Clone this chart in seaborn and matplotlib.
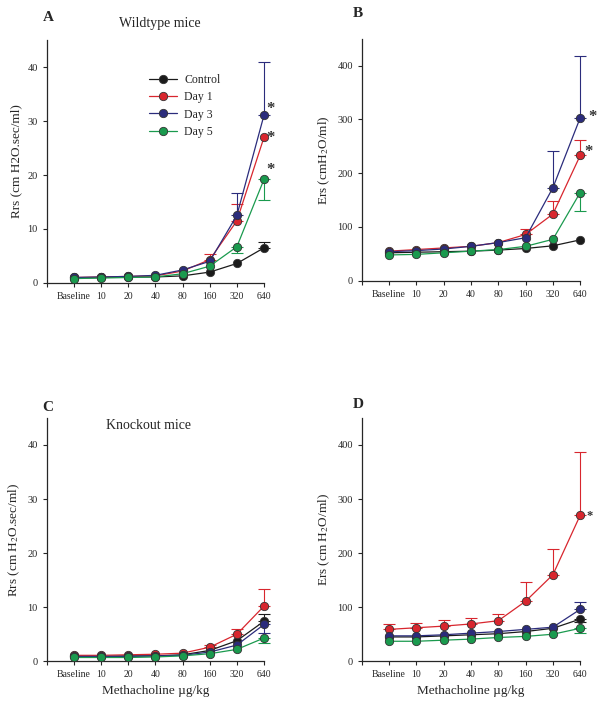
import numpy as np
import pandas as pd
import matplotlib
matplotlib.use('Agg')
import matplotlib.pyplot as plt
import seaborn as sns

sns.set_style("ticks")
plt.rcParams['font.family'] = ['Liberation Serif', 'DejaVu Serif']
plt.rcParams['mathtext.fontset'] = 'stix'

doses = ['Baseline', '10', '20', '40', '80', '160', '320', '640']
groups = ['Control', 'Day 1', 'Day 3', 'Day 5']
colors = {'Control': '#1b1b1b', 'Day 1': '#d8262e', 'Day 3': '#2b2c7c', 'Day 5': '#1a9a4e'}
nan = np.nan

# A - Rrs wildtype
a_ctrl = [0.9, 1.0, 1.1, 1.1, 1.3, 2.0, 3.6, 6.5]
a_day1 = [1.0, 1.1, 1.2, 1.3, 2.2, 4.3, 11.5, 27.0]
a_day3 = [1.0, 1.1, 1.2, 1.4, 2.4, 4.0, 12.5, 31.1]
a_day5 = [0.8, 0.9, 1.0, 1.1, 1.7, 3.1, 6.7, 19.2]
# error bar ends (nan = not visible)
a_ctrl_err = [nan, nan, nan, nan, nan, nan, nan, 7.6]
a_day1_err = [nan, nan, nan, nan, nan, 5.3, 14.6, nan]
a_day3_err = [nan, nan, nan, nan, nan, nan, 16.7, 41.0]
a_day5_err = [nan, nan, nan, nan, nan, nan, 5.6, 15.3]

# B - Ers wildtype
b_ctrl = [52, 53, 54, 55, 57, 60, 65, 76]
b_day1 = [55, 58, 61, 64, 71, 86, 124, 233]
b_day3 = [54, 56, 59, 64, 71, 80, 173, 303]
b_day5 = [48, 49, 52, 55, 58, 64, 77, 164]
b_ctrl_err = [nan] * 8
b_day1_err = [nan, nan, nan, nan, nan, 96, 149, 261]
b_day3_err = [nan, nan, nan, nan, nan, nan, 242, 418]
b_day5_err = [nan, nan, nan, nan, nan, nan, nan, 130]

# C - Rrs knockout
c_ctrl = [0.9, 0.9, 1.0, 1.0, 1.2, 2.0, 3.8, 7.4]
c_day1 = [1.1, 1.1, 1.2, 1.3, 1.5, 2.6, 5.0, 10.2]
c_day3 = [0.9, 0.9, 0.9, 1.0, 1.1, 1.7, 3.0, 6.8]
c_day5 = [0.7, 0.7, 0.7, 0.8, 1.0, 1.4, 2.2, 4.3]
c_ctrl_err = [nan, nan, nan, nan, nan, nan, nan, 8.8]
c_day1_err = [nan, nan, nan, nan, nan, 3.1, 6.0, 13.4]
c_day3_err = [nan, nan, nan, nan, nan, nan, nan, 5.2]
c_day5_err = [nan, nan, nan, nan, nan, nan, nan, 3.4]

# D - Ers knockout
d_ctrl = [45, 45, 47, 49, 51, 55, 61, 78]
d_day1 = [59, 62, 65, 69, 75, 111, 160, 270]
d_day3 = [47, 47, 49, 52, 55, 59, 63, 96]
d_day5 = [37, 37, 39, 41, 44, 46, 50, 61]
d_ctrl_err = [nan, nan, nan, nan, nan, nan, nan, 72]
d_day1_err = [68, 71, 76, 80, 88, 146, 207, 386]
d_day3_err = [nan, nan, nan, nan, nan, nan, nan, 110]
d_day5_err = [nan, nan, nan, nan, nan, nan, nan, 52]

# significance stars: (x, y, size)
a_stars = [(7.25, 32.3, 12), (7.25, 26.8, 12), (7.25, 20.9, 12)]
b_stars = [(7.45, 304, 12), (7.3, 240, 12)]
c_stars = []
d_stars = [(7.35, 268, 9)]


def make_df(vals):
    rows = []
    for g, v in zip(groups, vals):
        for i, y in enumerate(v):
            rows.append({'pos': i, 'value': y, 'group': g})
    return pd.DataFrame(rows)


def draw_panel(ax, vals, errs, ymax, yticks, ylabel, stars, xlabel=None):
    df = make_df(vals)
    for g, v, e in zip(groups, vals, errs):
        v = np.array(v, dtype=float)
        e = np.array(e, dtype=float)
        ok = ~np.isnan(e)
        if ok.any():
            lo = np.where(e[ok] < v[ok], v[ok] - e[ok], 0)
            hi = np.where(e[ok] > v[ok], e[ok] - v[ok], 0)
            eb = ax.errorbar(np.arange(8)[ok], v[ok], yerr=[lo, hi], fmt='none',
                             ecolor=colors[g], elinewidth=0.8, capsize=4, capthick=0.8, zorder=1)
            for child in eb.get_children():
                child.set_clip_on(False)
    sns.lineplot(data=df, x='pos', y='value', hue='group', hue_order=groups,
                 palette=colors, marker='o', markersize=6, markeredgecolor='#333333',
                 markeredgewidth=0.6, linewidth=0.9, ax=ax, legend=False, zorder=3)
    for ln in ax.lines:
        ln.set_clip_on(False)
    for x, y, s in stars:
        ax.text(x, y, '*', fontsize=s, fontweight='bold', color='#333333', ha='center', va='center')
    ax.set_xlim(-1, 7)
    ax.set_ylim(0, ymax)
    ax.set_xticks(range(-1, 8))
    ax.set_xticklabels([''] + doses, fontsize=7)
    ax.set_yticks(yticks)
    ax.tick_params(axis='y', labelsize=7.5, length=3, width=0.8)
    ax.tick_params(axis='x', length=3, width=0.8)
    ax.set_ylabel(ylabel, fontsize=9.5)
    ax.set_xlabel(xlabel if xlabel else '', fontsize=9.5)
    sns.despine(ax=ax)
    ax.spines['left'].set_linewidth(0.9)
    ax.spines['bottom'].set_linewidth(0.9)


fig = plt.figure(figsize=(6, 7.18), dpi=100)
axA = fig.add_axes([0.078, 0.606, 0.362, 0.338])
axB = fig.add_axes([0.603, 0.609, 0.364, 0.337])
axC = fig.add_axes([0.078, 0.079, 0.362, 0.339])
axD = fig.add_axes([0.603, 0.079, 0.364, 0.339])

draw_panel(axA, [a_ctrl, a_day1, a_day3, a_day5], [a_ctrl_err, a_day1_err, a_day3_err, a_day5_err],
           45, [0, 10, 20, 30, 40], 'Rrs (cm H2O.sec/ml)', a_stars)
draw_panel(axB, [b_ctrl, b_day1, b_day3, b_day5], [b_ctrl_err, b_day1_err, b_day3_err, b_day5_err],
           450, [0, 100, 200, 300, 400], r'Ers (cmH$_2$O/ml)', b_stars)
draw_panel(axC, [c_ctrl, c_day1, c_day3, c_day5], [c_ctrl_err, c_day1_err, c_day3_err, c_day5_err],
           45, [0, 10, 20, 30, 40], r'Rrs (cm H$_2$O.sec/ml)', c_stars, 'Methacholine µg/kg')
draw_panel(axD, [d_ctrl, d_day1, d_day3, d_day5], [d_ctrl_err, d_day1_err, d_day3_err, d_day5_err],
           450, [0, 100, 200, 300, 400], r'Ers (cm H$_2$O/ml)', d_stars, 'Methacholine µg/kg')

# legend in panel A
handles = [plt.Line2D([], [], color=colors[g], marker='o', markersize=6, markeredgecolor='#333333',
                      markeredgewidth=0.6, linewidth=0.9) for g in groups]
axA.legend(handles, groups, loc='upper left', bbox_to_anchor=(0.42, 0.905), frameon=False,
           fontsize=8.5, handlelength=2.4, labelspacing=0.45, handletextpad=0.6)

axA.set_title('Wildtype mice', fontsize=10, x=0.52, y=1.02)
axC.text(0.47, 0.97, 'Knockout mice', transform=axC.transAxes, fontsize=10, ha='center', va='center')

fig.text(0.08, 0.976, 'A', fontsize=11, fontweight='bold', ha='center', va='center')
fig.text(0.597, 0.981, 'B', fontsize=11, fontweight='bold', ha='center', va='center')
fig.text(0.08, 0.433, 'C', fontsize=11, fontweight='bold', ha='center', va='center')
fig.text(0.597, 0.436, 'D', fontsize=11, fontweight='bold', ha='center', va='center')

fig.savefig('out.png', dpi=100)
